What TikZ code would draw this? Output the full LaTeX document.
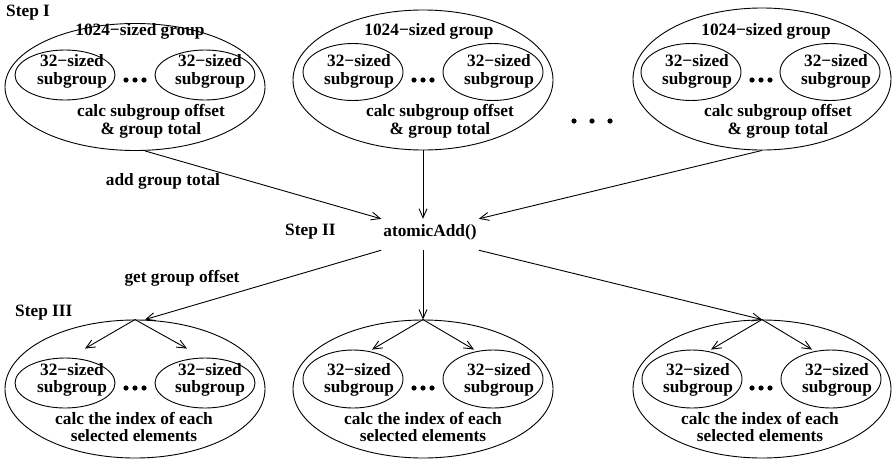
\documentclass[tikz,border=0pt]{standalone}
\usepackage{fontspec}
\setmainfont{Liberation Serif}
\usetikzlibrary{arrows.meta,shapes.geometric}
\begin{document}
\begin{tikzpicture}[x=1pt,y=-1pt,
  every node/.style={font=\fontsize{17.3}{17.5}\selectfont\bfseries},
  grp/.style={draw,ellipse,inner sep=0pt,line width=0.9pt},
  lbl/.style={align=center,inner sep=0pt,anchor=base},
  lblw/.style={inner sep=0pt,anchor=base west},
  arr/.style={line width=0.9pt,-{Straight Barb[length=9pt,width=8pt]}},
  dot/.style={fill=black}]
\useasboundingbox (0,0) rectangle (893,461);

% ---- Step I groups
\node[grp,minimum width=260pt,minimum height=127pt] (G1) at (135,87) {};
\node[grp,minimum width=260pt,minimum height=140pt] (G2) at (423,80) {};
\node[grp,minimum width=258pt,minimum height=142pt] (G3) at (762,79) {};
\node[grp,minimum width=100pt,minimum height=50pt] (G1a) at (65,75) {};
\node[grp,minimum width=100pt,minimum height=50pt] (G1b) at (205,75) {};
\node[grp,minimum width=100pt,minimum height=57pt] (G2a) at (353,72) {};
\node[grp,minimum width=100pt,minimum height=57pt] (G2b) at (493,72) {};
\node[grp,minimum width=100pt,minimum height=57pt] (G3a) at (691,72) {};
\node[grp,minimum width=100pt,minimum height=57pt] (G3b) at (830,72) {};

% (multi-line nodes: base = baseline of the last line)
\node[lbl] (G1t) at (140,35.5) {1024−sized group};
\node[lbl] (G2t) at (429,35.5) {1024−sized group};
\node[lbl] (G3t) at (766,35.5) {1024−sized group};
\node[lbl] (G1at) at (72,84) {32−sized\\subgroup};
\node[lbl] (G1bt) at (210,84) {32−sized\\subgroup};
\node[lbl] (G2at) at (359,84) {32−sized\\subgroup};
\node[lbl] (G2bt) at (499,84) {32−sized\\subgroup};
\node[lbl] (G3at) at (697,84) {32−sized\\subgroup};
\node[lbl] (G3bt) at (836,84) {32−sized\\subgroup};
\node[lbl] (G1c) at (151,134) {calc subgroup offset\\\& group total};
\node[lbl] (G2c) at (440,134) {calc subgroup offset\\\& group total};
\node[lbl] (G3c) at (778,134) {calc subgroup offset\\\& group total};

\foreach \cx/\cy in {135/80,423/80,761/80,135/388,423/388,761/388}{
  \fill[dot] (\cx-9,\cy) circle (2.6pt) (\cx,\cy) circle (2.6pt) (\cx+9,\cy) circle (2.6pt);
}
\fill[dot] (574,121) circle (2.6pt) (592,121) circle (2.6pt) (610,121) circle (2.6pt);

% ---- Step II
\node[anchor=base,text height=14pt,text depth=11pt,inner xsep=2pt,inner ysep=3pt] (aa) at (430,236) {atomicAdd()};

% ---- Step III groups
\node[grp,minimum width=260pt,minimum height=138pt] (B1) at (135,389) {};
\node[grp,minimum width=260pt,minimum height=138pt] (B2) at (423,389) {};
\node[grp,minimum width=258pt,minimum height=138pt] (B3) at (762,389) {};
\node[grp,minimum width=100pt,minimum height=50pt] (B1a) at (65,383) {};
\node[grp,minimum width=100pt,minimum height=50pt] (B1b) at (205,383) {};
\node[grp,minimum width=100pt,minimum height=58pt] (B2a) at (353,379) {};
\node[grp,minimum width=100pt,minimum height=58pt] (B2b) at (493,379) {};
\node[grp,minimum width=100pt,minimum height=58pt] (B3a) at (692,379) {};
\node[grp,minimum width=100pt,minimum height=58pt] (B3b) at (831,379) {};

\node[lbl] (B1at) at (72,392.5) {32−sized\\subgroup};
\node[lbl] (B1bt) at (210,392.5) {32−sized\\subgroup};
\node[lbl] (B2at) at (359,392.5) {32−sized\\subgroup};
\node[lbl] (B2bt) at (499,392.5) {32−sized\\subgroup};
\node[lbl] (B3at) at (698,392.5) {32−sized\\subgroup};
\node[lbl] (B3bt) at (837,392.5) {32−sized\\subgroup};
\node[lbl] (B1c) at (134,441.5) {calc the index of each\\selected elements};
\node[lbl] (B2c) at (423,441.5) {calc the index of each\\selected elements};
\node[lbl] (B3c) at (760,441.5) {calc the index of each\\selected elements};

% ---- labels
\node[lblw] (s1) at (6,16.5) {Step I};
\node[lblw] (s2) at (285,235) {Step II};
\node[lblw] (s3) at (15,316) {Step III};
\node[lbl] (l1) at (163,185) {add group total};
\node[lbl] (l2) at (182,282) {get group offset};

% ---- connectors
\draw[arr] ([xshift=10pt]G1.south) -- (aa.north west);
\draw[arr] (G2.south) -- (G2.south |- aa.north);
\draw[arr] (G3.south) -- (aa.north east);
\draw[arr] (aa.south west) -- ([xshift=10pt]B1.north);
\draw[arr] (B2.north |- aa.south) -- (B2.north);
\draw[arr] (aa.south east) -- (B3.north);
\draw[arr] (B1.north) -- ([xshift=20pt,yshift=9pt]B1a.north);
\draw[arr] (B1.north) -- ([xshift=-18pt,yshift=9pt]B1b.north);
\draw[arr] (B2.north) -- ([xshift=19pt]B2a.north);
\draw[arr] (B2.north) -- ([xshift=-19pt]B2b.north);
\draw[arr] (B3.north) -- ([xshift=19pt]B3a.north);
\draw[arr] (B3.north) -- ([xshift=-19pt]B3b.north);
\end{tikzpicture}
\end{document}
